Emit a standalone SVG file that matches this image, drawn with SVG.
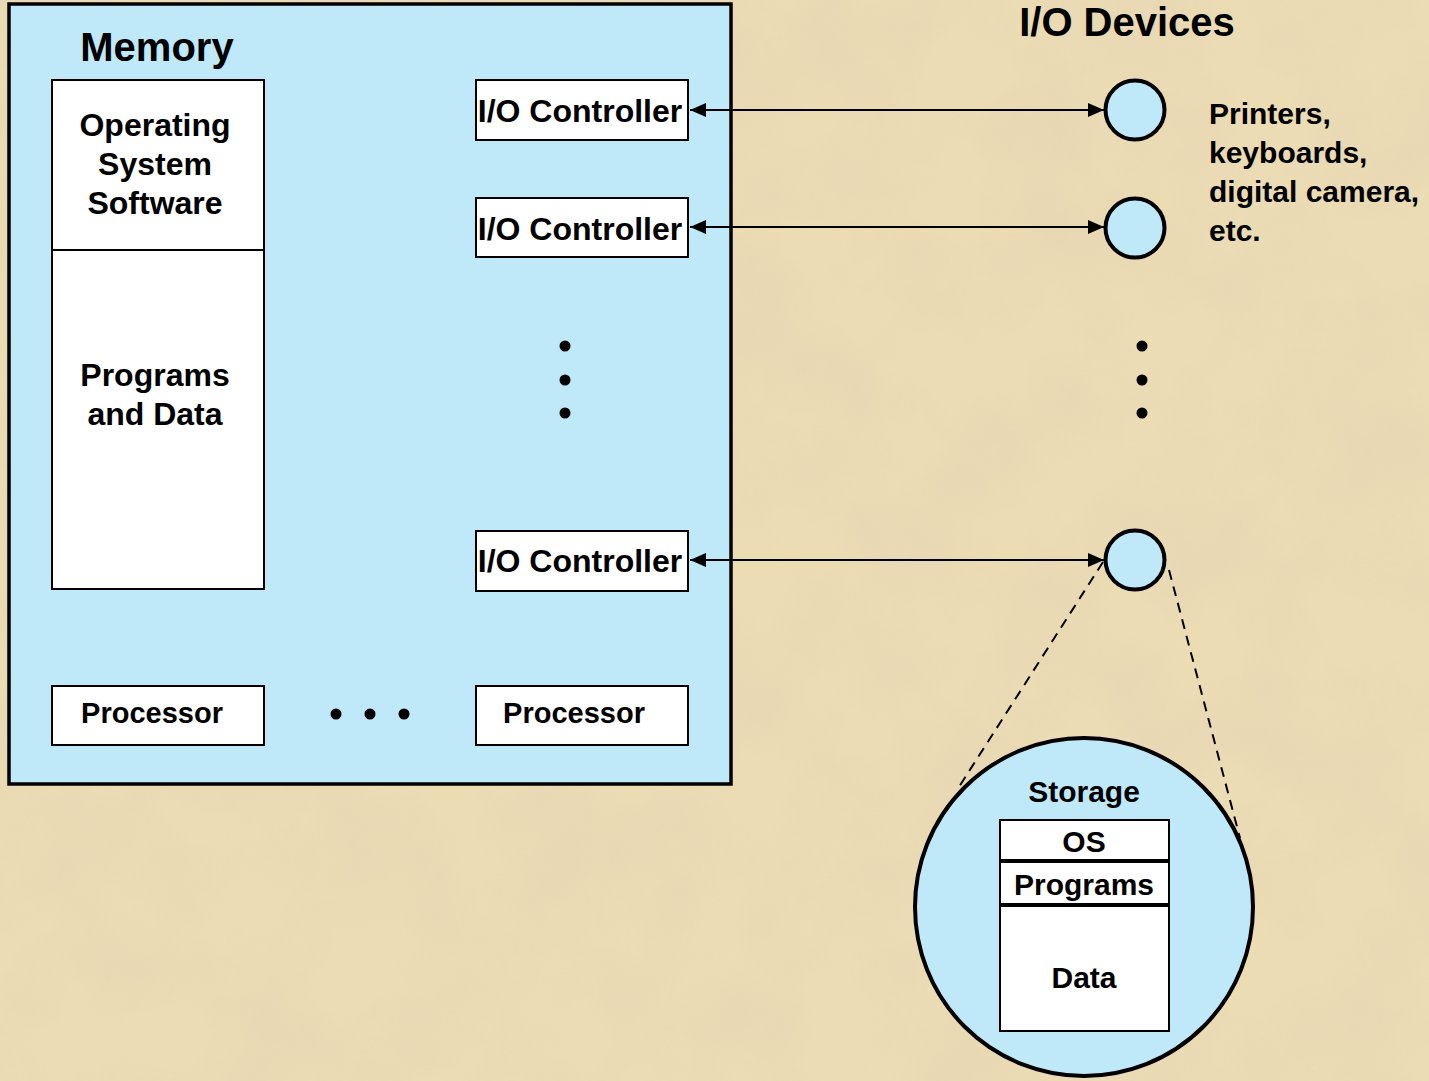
<svg xmlns="http://www.w3.org/2000/svg" width="1429" height="1081" viewBox="0 0 1429 1081">
<style>
.box{fill:#ffffff;stroke:#000;stroke-width:2}
.blue{fill:#bfe9f8;stroke:#000}
.t{font-family:"Liberation Sans",Arial,sans-serif;font-weight:bold;fill:#000;text-anchor:middle}
.c{font-size:32px}
.p{font-size:29px}
.lbl{font-size:30px}
.conn{stroke:#000;stroke-width:1.8;fill:none}
.dash{stroke:#000;stroke-width:2;fill:none;stroke-dasharray:10 7}
</style>
<defs>
<marker id="ah" viewBox="0 0 16 14" refX="16" refY="7" markerWidth="16" markerHeight="14" orient="auto-start-reverse" markerUnits="userSpaceOnUse">
<path d="M0,0 L16,7 L0,14 z" fill="#000"/>
</marker>
<filter id="paper" x="0" y="0" width="100%" height="100%">
<feTurbulence type="fractalNoise" baseFrequency="0.01" numOctaves="4" seed="7" result="n"/>
<feColorMatrix in="n" type="matrix" values="0 0 0 0 0.78  0 0 0 0 0.66  0 0 0 0 0.45  1.6 0 0 0 -0.55" result="c"/>
<feComposite in="c" in2="SourceGraphic" operator="in"/>
</filter>
</defs>
<rect x="0" y="0" width="1429" height="1081" fill="#ecdcb4"/>
<rect x="0" y="0" width="1429" height="1081" fill="#ecdcb4" filter="url(#paper)" opacity="0.7"/>

<g id="memory">
<rect x="9" y="4" width="722" height="780" class="blue" stroke-width="3.5"/>
<text x="157" y="61" class="t" font-size="40">Memory</text>
</g>
<g id="os-software">
<rect x="52" y="80" width="212" height="170" class="box"/>
<text class="t c" x="155" y="136">Operating</text>
<text class="t c" x="155" y="175">System</text>
<text class="t c" x="155" y="214">Software</text>
</g>
<g id="programs-data">
<rect x="52" y="250" width="212" height="339" class="box"/>
<text class="t c" x="155" y="386">Programs</text>
<text class="t c" x="155" y="425">and Data</text>
</g>
<g id="io-controller-1">
<rect x="476" y="80" width="212" height="60" class="box"/>
<text class="t c" x="580" y="122">I/O Controller</text>
</g>
<g id="io-controller-2">
<rect x="476" y="198" width="212" height="59" class="box"/>
<text class="t c" x="580" y="240">I/O Controller</text>
</g>
<g id="io-controller-3">
<rect x="476" y="531" width="212" height="60" class="box"/>
<text class="t c" x="580" y="572">I/O Controller</text>
</g>
<g id="controller-dots">
<circle cx="565" cy="346" r="5.5"/><circle cx="565" cy="380" r="5.5"/><circle cx="565" cy="413" r="5.5"/>
</g>
<g id="processor-1">
<rect x="52" y="686" width="212" height="59" class="box"/>
<text class="t p" x="152" y="723">Processor</text>
</g>
<g id="processor-dots">
<circle cx="336" cy="714" r="5.5"/><circle cx="370" cy="714" r="5.5"/><circle cx="404" cy="714" r="5.5"/>
</g>
<g id="processor-2">
<rect x="476" y="686" width="212" height="59" class="box"/>
<text class="t p" x="574" y="723">Processor</text>
</g>

<g id="io-devices-label">
<text class="t" x="1127" y="36" font-size="40">I/O Devices</text>
</g>
<g id="device-1"><circle cx="1135" cy="110" r="29.5" class="blue" stroke-width="4"/></g>
<g id="device-2"><circle cx="1135" cy="228" r="29.5" class="blue" stroke-width="4"/></g>
<g id="device-3"><circle cx="1135" cy="560" r="29.5" class="blue" stroke-width="4"/></g>
<g id="device-dots">
<circle cx="1142" cy="346" r="5.5"/><circle cx="1142" cy="380" r="5.5"/><circle cx="1142" cy="413" r="5.5"/>
</g>
<g id="device-note">
<text class="t lbl" style="text-anchor:start" x="1209" y="124">Printers,</text>
<text class="t lbl" style="text-anchor:start" x="1209" y="163">keyboards,</text>
<text class="t lbl" style="text-anchor:start" x="1209" y="202">digital camera,</text>
<text class="t lbl" style="text-anchor:start" x="1209" y="241">etc.</text>
</g>

<g id="storage">
<circle cx="1084" cy="907" r="169" class="blue" stroke-width="4"/>
<text class="t lbl" x="1084" y="802">Storage</text>
<rect x="1000" y="820" width="169" height="211" class="box" stroke-width="4"/>
<line x1="1000" y1="861" x2="1169" y2="861" stroke="#000" stroke-width="4"/>
<line x1="1000" y1="905" x2="1169" y2="905" stroke="#000" stroke-width="4"/>
<text class="t lbl" x="1084" y="852">OS</text>
<text class="t lbl" x="1084" y="895">Programs</text>
<text class="t lbl" x="1084" y="988">Data</text>
</g>

<g id="connectors">
<line x1="690" y1="110" x2="1104" y2="110" class="conn" marker-start="url(#ah)" marker-end="url(#ah)"/>
<line x1="690" y1="227" x2="1104" y2="227" class="conn" marker-start="url(#ah)" marker-end="url(#ah)"/>
<line x1="690" y1="560" x2="1104" y2="560" class="conn" marker-start="url(#ah)" marker-end="url(#ah)"/>
<line x1="1103" y1="562" x2="957" y2="790" class="dash"/>
<line x1="1169" y1="570" x2="1240" y2="838" class="dash"/>
</g>
</svg>
